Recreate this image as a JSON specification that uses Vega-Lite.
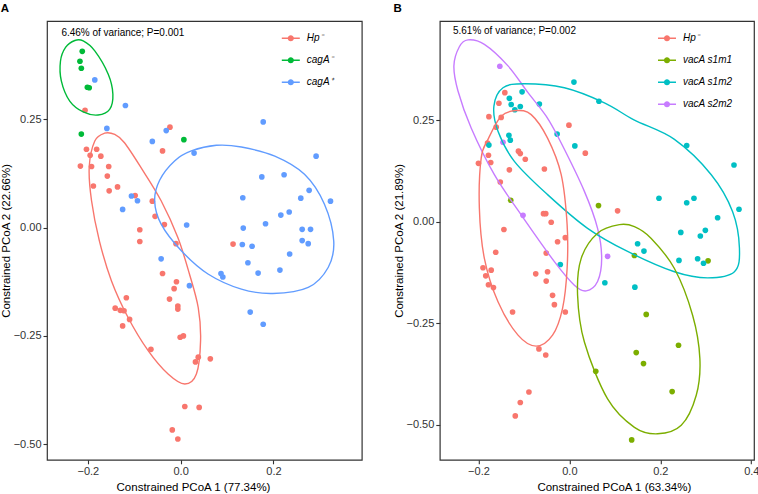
{
  "$schema": "https://vega.github.io/schema/vega-lite/v6.json",
  "padding": {"left": 0, "top": 2, "right": 1, "bottom": 0},
  "config": {
    "font": "Liberation Sans",
    "view": {"stroke": "#333333", "strokeWidth": 1.2},
    "axis": {"grid": false, "domain": false, "tickColor": "#333333", "tickSize": 4, "tickWidth": 1.1, "labelFontSize": 11, "labelColor": "#333333", "labelPadding": 2, "titleFontSize": 11.5, "titleFontWeight": "normal", "titleColor": "#000000", "labelFont": "Liberation Sans", "titleFont": "Liberation Sans"},
    "axisY": {"titlePadding": 1.5},
    "axisX": {"titlePadding": 5},
    "title": {"font": "Liberation Sans", "fontSize": 11.5, "fontWeight": "bold", "anchor": "start", "frame": "bounds", "offset": 6, "color": "#000000"}
  },
  "datasets": {
    "ptsA": [
      {"g": "Hp\u207b", "x": -0.206, "y": 0.271}, {"g": "Hp\u207b", "x": -0.023, "y": 0.232}, {"g": "Hp\u207b", "x": -0.203, "y": 0.181}, {"g": "Hp\u207b", "x": -0.181, "y": 0.181},
      {"g": "Hp\u207b", "x": -0.195, "y": 0.167}, {"g": "Hp\u207b", "x": -0.172, "y": 0.165}, {"g": "Hp\u207b", "x": -0.216, "y": 0.142}, {"g": "Hp\u207b", "x": -0.192, "y": 0.141},
      {"g": "Hp\u207b", "x": -0.155, "y": 0.141}, {"g": "Hp\u207b", "x": -0.158, "y": 0.119}, {"g": "Hp\u207b", "x": -0.188, "y": 0.096}, {"g": "Hp\u207b", "x": -0.136, "y": 0.094},
      {"g": "Hp\u207b", "x": -0.154, "y": 0.085}, {"g": "Hp\u207b", "x": -0.098, "y": 0.074}, {"g": "Hp\u207b", "x": -0.061, "y": 0.061}, {"g": "Hp\u207b", "x": -0.039, "y": 0.177},
      {"g": "Hp\u207b", "x": -0.055, "y": 0.026}, {"g": "Hp\u207b", "x": -0.035, "y": 0.007}, {"g": "Hp\u207b", "x": -0.088, "y": -0.005}, {"g": "Hp\u207b", "x": -0.088, "y": -0.032},
      {"g": "Hp\u207b", "x": -0.010, "y": -0.037}, {"g": "Hp\u207b", "x": 0.113, "y": -0.038}, {"g": "Hp\u207b", "x": -0.039, "y": -0.106}, {"g": "Hp\u207b", "x": -0.009, "y": -0.125},
      {"g": "Hp\u207b", "x": -0.014, "y": -0.141}, {"g": "Hp\u207b", "x": -0.024, "y": -0.165}, {"g": "Hp\u207b", "x": -0.006, "y": -0.181}, {"g": "Hp\u207b", "x": -0.006, "y": -0.188},
      {"g": "Hp\u207b", "x": -0.117, "y": -0.162}, {"g": "Hp\u207b", "x": -0.141, "y": -0.186}, {"g": "Hp\u207b", "x": -0.130, "y": -0.191}, {"g": "Hp\u207b", "x": -0.122, "y": -0.192},
      {"g": "Hp\u207b", "x": -0.110, "y": -0.212}, {"g": "Hp\u207b", "x": -0.125, "y": -0.227}, {"g": "Hp\u207b", "x": -0.001, "y": -0.253}, {"g": "Hp\u207b", "x": 0.006, "y": -0.250},
      {"g": "Hp\u207b", "x": -0.064, "y": -0.281}, {"g": "Hp\u207b", "x": 0.038, "y": -0.299}, {"g": "Hp\u207b", "x": 0.064, "y": -0.303}, {"g": "Hp\u207b", "x": 0.032, "y": -0.310},
      {"g": "Hp\u207b", "x": 0.009, "y": -0.413}, {"g": "Hp\u207b", "x": 0.040, "y": -0.415}, {"g": "Hp\u207b", "x": -0.018, "y": -0.467}, {"g": "Hp\u207b", "x": -0.006, "y": -0.488},
      {"g": "cagA\u207b", "x": -0.212, "y": 0.407}, {"g": "cagA\u207b", "x": -0.217, "y": 0.384}, {"g": "cagA\u207b", "x": -0.214, "y": 0.368}, {"g": "cagA\u207b", "x": -0.201, "y": 0.324},
      {"g": "cagA\u207b", "x": -0.197, "y": 0.323}, {"g": "cagA\u207b", "x": -0.214, "y": 0.216}, {"g": "cagA\u207b", "x": 0.007, "y": 0.203},
      {"g": "cagA\u207a", "x": -0.119, "y": 0.282}, {"g": "cagA\u207a", "x": -0.185, "y": 0.341}, {"g": "cagA\u207a", "x": -0.159, "y": 0.229}, {"g": "cagA\u207a", "x": -0.031, "y": 0.224},
      {"g": "cagA\u207a", "x": -0.061, "y": 0.199}, {"g": "cagA\u207a", "x": 0.178, "y": 0.244}, {"g": "cagA\u207a", "x": 0.029, "y": 0.172}, {"g": "cagA\u207a", "x": 0.292, "y": 0.165},
      {"g": "cagA\u207a", "x": 0.175, "y": 0.117}, {"g": "cagA\u207a", "x": 0.223, "y": 0.122}, {"g": "cagA\u207a", "x": 0.277, "y": 0.086}, {"g": "cagA\u207a", "x": 0.259, "y": 0.068},
      {"g": "cagA\u207a", "x": 0.134, "y": 0.069}, {"g": "cagA\u207a", "x": 0.323, "y": 0.061}, {"g": "cagA\u207a", "x": -0.106, "y": 0.073}, {"g": "cagA\u207a", "x": -0.093, "y": 0.062},
      {"g": "cagA\u207a", "x": -0.125, "y": 0.042}, {"g": "cagA\u207a", "x": 0.234, "y": 0.036}, {"g": "cagA\u207a", "x": 0.216, "y": 0.029}, {"g": "cagA\u207a", "x": 0.013, "y": 0.006},
      {"g": "cagA\u207a", "x": 0.135, "y": -0.001}, {"g": "cagA\u207a", "x": 0.183, "y": 0.009}, {"g": "cagA\u207a", "x": 0.262, "y": -0.004}, {"g": "cagA\u207a", "x": 0.280, "y": -0.004},
      {"g": "cagA\u207a", "x": 0.262, "y": -0.030}, {"g": "cagA\u207a", "x": 0.275, "y": -0.037}, {"g": "cagA\u207a", "x": 0.133, "y": -0.039}, {"g": "cagA\u207a", "x": 0.154, "y": -0.043},
      {"g": "cagA\u207a", "x": 0.235, "y": -0.061}, {"g": "cagA\u207a", "x": -0.042, "y": -0.072}, {"g": "cagA\u207a", "x": 0.145, "y": -0.081}, {"g": "cagA\u207a", "x": 0.167, "y": -0.105},
      {"g": "cagA\u207a", "x": 0.214, "y": -0.098}, {"g": "cagA\u207a", "x": 0.087, "y": -0.106}, {"g": "cagA\u207a", "x": 0.091, "y": -0.114}, {"g": "cagA\u207a", "x": 0.019, "y": -0.134},
      {"g": "cagA\u207a", "x": 0.150, "y": -0.195}, {"g": "cagA\u207a", "x": 0.178, "y": -0.223}
    ],
    "ellA": [
      {"g": "cagA\u207b", "i": 0, "x": -0.228, "y": 0.432}, {"g": "cagA\u207b", "i": 1, "x": -0.210, "y": 0.431}, {"g": "cagA\u207b", "i": 2, "x": -0.185, "y": 0.408},
      {"g": "cagA\u207b", "i": 3, "x": -0.156, "y": 0.354}, {"g": "cagA\u207b", "i": 4, "x": -0.146, "y": 0.308}, {"g": "cagA\u207b", "i": 5, "x": -0.153, "y": 0.273},
      {"g": "cagA\u207b", "i": 6, "x": -0.178, "y": 0.260}, {"g": "cagA\u207b", "i": 7, "x": -0.210, "y": 0.267}, {"g": "cagA\u207b", "i": 8, "x": -0.239, "y": 0.292},
      {"g": "cagA\u207b", "i": 9, "x": -0.257, "y": 0.338}, {"g": "cagA\u207b", "i": 10, "x": -0.259, "y": 0.384}, {"g": "cagA\u207b", "i": 11, "x": -0.248, "y": 0.416},
      {"g": "Hp\u207b", "i": 0, "x": -0.164, "y": 0.218}, {"g": "Hp\u207b", "i": 1, "x": -0.142, "y": 0.215}, {"g": "Hp\u207b", "i": 2, "x": -0.121, "y": 0.196},
      {"g": "Hp\u207b", "i": 3, "x": -0.085, "y": 0.138}, {"g": "Hp\u207b", "i": 4, "x": -0.042, "y": 0.062}, {"g": "Hp\u207b", "i": 5, "x": -0.006, "y": -0.023},
      {"g": "Hp\u207b", "i": 6, "x": 0.019, "y": -0.107}, {"g": "Hp\u207b", "i": 7, "x": 0.038, "y": -0.185}, {"g": "Hp\u207b", "i": 8, "x": 0.043, "y": -0.261},
      {"g": "Hp\u207b", "i": 9, "x": 0.034, "y": -0.338}, {"g": "Hp\u207b", "i": 10, "x": 0.009, "y": -0.361}, {"g": "Hp\u207b", "i": 11, "x": -0.027, "y": -0.338},
      {"g": "Hp\u207b", "i": 12, "x": -0.070, "y": -0.284}, {"g": "Hp\u207b", "i": 13, "x": -0.113, "y": -0.208}, {"g": "Hp\u207b", "i": 14, "x": -0.149, "y": -0.123},
      {"g": "Hp\u207b", "i": 15, "x": -0.175, "y": -0.031}, {"g": "Hp\u207b", "i": 16, "x": -0.192, "y": 0.062}, {"g": "Hp\u207b", "i": 17, "x": -0.197, "y": 0.140},
      {"g": "Hp\u207b", "i": 18, "x": -0.185, "y": 0.200},
      {"g": "cagA\u207a", "i": 0, "x": -0.056, "y": 0.062}, {"g": "cagA\u207a", "i": 1, "x": -0.045, "y": 0.110}, {"g": "cagA\u207a", "i": 2, "x": -0.013, "y": 0.154},
      {"g": "cagA\u207a", "i": 3, "x": 0.023, "y": 0.177}, {"g": "cagA\u207a", "i": 4, "x": 0.077, "y": 0.190}, {"g": "cagA\u207a", "i": 5, "x": 0.131, "y": 0.186},
      {"g": "cagA\u207a", "i": 6, "x": 0.203, "y": 0.165}, {"g": "cagA\u207a", "i": 7, "x": 0.267, "y": 0.123}, {"g": "cagA\u207a", "i": 8, "x": 0.310, "y": 0.054},
      {"g": "cagA\u207a", "i": 9, "x": 0.330, "y": -0.031}, {"g": "cagA\u207a", "i": 10, "x": 0.318, "y": -0.092}, {"g": "cagA\u207a", "i": 11, "x": 0.275, "y": -0.138},
      {"g": "cagA\u207a", "i": 12, "x": 0.199, "y": -0.152}, {"g": "cagA\u207a", "i": 13, "x": 0.131, "y": -0.142}, {"g": "cagA\u207a", "i": 14, "x": 0.059, "y": -0.107},
      {"g": "cagA\u207a", "i": 15, "x": 0.002, "y": -0.054}, {"g": "cagA\u207a", "i": 16, "x": -0.042, "y": 0.008}
    ],
    "annA": [{"x": -0.257, "y": 0.449, "label": "6.46% of variance; P=0.001"}],
    "ptsB": [
      {"g": "Hp\u207b", "x": -0.142, "y": 0.318}, {"g": "Hp\u207b", "x": -0.155, "y": 0.292}, {"g": "Hp\u207b", "x": -0.177, "y": 0.259}, {"g": "Hp\u207b", "x": -0.150, "y": 0.257},
      {"g": "Hp\u207b", "x": -0.001, "y": 0.238}, {"g": "Hp\u207b", "x": -0.161, "y": 0.233}, {"g": "Hp\u207b", "x": 0.035, "y": 0.169}, {"g": "Hp\u207b", "x": -0.180, "y": 0.194},
      {"g": "Hp\u207b", "x": -0.178, "y": 0.164}, {"g": "Hp\u207b", "x": -0.200, "y": 0.144}, {"g": "Hp\u207b", "x": -0.173, "y": 0.146}, {"g": "Hp\u207b", "x": -0.112, "y": 0.174},
      {"g": "Hp\u207b", "x": -0.108, "y": 0.168}, {"g": "Hp\u207b", "x": -0.097, "y": 0.154}, {"g": "Hp\u207b", "x": -0.055, "y": 0.130}, {"g": "Hp\u207b", "x": -0.132, "y": 0.128},
      {"g": "Hp\u207b", "x": -0.152, "y": 0.098}, {"g": "Hp\u207b", "x": 0.106, "y": 0.027}, {"g": "Hp\u207b", "x": -0.057, "y": 0.020}, {"g": "Hp\u207b", "x": -0.052, "y": 0.020},
      {"g": "Hp\u207b", "x": -0.040, "y": -0.001}, {"g": "Hp\u207b", "x": -0.144, "y": -0.019}, {"g": "Hp\u207b", "x": -0.026, "y": -0.049}, {"g": "Hp\u207b", "x": -0.009, "y": -0.039},
      {"g": "Hp\u207b", "x": -0.162, "y": -0.075}, {"g": "Hp\u207b", "x": -0.051, "y": -0.077}, {"g": "Hp\u207b", "x": -0.190, "y": -0.113}, {"g": "Hp\u207b", "x": -0.172, "y": -0.119},
      {"g": "Hp\u207b", "x": -0.184, "y": -0.133}, {"g": "Hp\u207b", "x": -0.048, "y": -0.123}, {"g": "Hp\u207b", "x": -0.074, "y": -0.128}, {"g": "Hp\u207b", "x": -0.178, "y": -0.155},
      {"g": "Hp\u207b", "x": -0.167, "y": -0.162}, {"g": "Hp\u207b", "x": -0.051, "y": -0.146}, {"g": "Hp\u207b", "x": -0.037, "y": -0.181}, {"g": "Hp\u207b", "x": -0.033, "y": -0.204},
      {"g": "Hp\u207b", "x": -0.125, "y": -0.222}, {"g": "Hp\u207b", "x": -0.009, "y": -0.222}, {"g": "Hp\u207b", "x": -0.067, "y": -0.313}, {"g": "Hp\u207b", "x": -0.052, "y": -0.328},
      {"g": "Hp\u207b", "x": -0.089, "y": -0.419}, {"g": "Hp\u207b", "x": -0.108, "y": -0.445}, {"g": "Hp\u207b", "x": -0.119, "y": -0.478},
      {"g": "vacA s1m1", "x": -0.129, "y": 0.053}, {"g": "vacA s1m1", "x": 0.064, "y": 0.040}, {"g": "vacA s1m1", "x": 0.143, "y": -0.083}, {"g": "vacA s1m1", "x": 0.305, "y": -0.096},
      {"g": "vacA s1m1", "x": 0.169, "y": -0.228}, {"g": "vacA s1m1", "x": 0.240, "y": -0.304}, {"g": "vacA s1m1", "x": 0.147, "y": -0.322}, {"g": "vacA s1m1", "x": 0.163, "y": -0.349},
      {"g": "vacA s1m1", "x": 0.058, "y": -0.368}, {"g": "vacA s1m1", "x": 0.226, "y": -0.418}, {"g": "vacA s1m1", "x": 0.137, "y": -0.537},
      {"g": "vacA s1m2", "x": 0.010, "y": 0.344}, {"g": "vacA s1m2", "x": 0.065, "y": 0.297}, {"g": "vacA s1m2", "x": -0.132, "y": 0.304}, {"g": "vacA s1m2", "x": -0.104, "y": 0.320},
      {"g": "vacA s1m2", "x": -0.128, "y": 0.289}, {"g": "vacA s1m2", "x": -0.108, "y": 0.284}, {"g": "vacA s1m2", "x": -0.120, "y": 0.276}, {"g": "vacA s1m2", "x": -0.066, "y": 0.290},
      {"g": "vacA s1m2", "x": -0.027, "y": 0.216}, {"g": "vacA s1m2", "x": -0.133, "y": 0.213}, {"g": "vacA s1m2", "x": -0.130, "y": 0.201}, {"g": "vacA s1m2", "x": -0.177, "y": 0.189},
      {"g": "vacA s1m2", "x": 0.012, "y": 0.187}, {"g": "vacA s1m2", "x": 0.258, "y": 0.188}, {"g": "vacA s1m2", "x": 0.362, "y": 0.140}, {"g": "vacA s1m2", "x": 0.197, "y": 0.058},
      {"g": "vacA s1m2", "x": 0.258, "y": 0.047}, {"g": "vacA s1m2", "x": 0.274, "y": 0.058}, {"g": "vacA s1m2", "x": 0.373, "y": 0.031}, {"g": "vacA s1m2", "x": 0.326, "y": 0.010},
      {"g": "vacA s1m2", "x": 0.245, "y": -0.026}, {"g": "vacA s1m2", "x": 0.288, "y": -0.035}, {"g": "vacA s1m2", "x": 0.299, "y": -0.021}, {"g": "vacA s1m2", "x": 0.150, "y": -0.054},
      {"g": "vacA s1m2", "x": 0.164, "y": -0.072}, {"g": "vacA s1m2", "x": 0.241, "y": -0.095}, {"g": "vacA s1m2", "x": 0.282, "y": -0.091}, {"g": "vacA s1m2", "x": 0.295, "y": -0.102},
      {"g": "vacA s1m2", "x": -0.020, "y": -0.105}, {"g": "vacA s1m2", "x": 0.078, "y": -0.150}, {"g": "vacA s1m2", "x": 0.144, "y": -0.161},
      {"g": "vacA s2m2", "x": -0.153, "y": 0.383}, {"g": "vacA s2m2", "x": -0.146, "y": 0.196}, {"g": "vacA s2m2", "x": -0.102, "y": 0.016}, {"g": "vacA s2m2", "x": 0.084, "y": -0.085}
    ],
    "ellB": [
      {"g": "vacA s2m2", "i": 0, "x": -0.223, "y": 0.448}, {"g": "vacA s2m2", "i": 1, "x": -0.187, "y": 0.437}, {"g": "vacA s2m2", "i": 2, "x": -0.135, "y": 0.384},
      {"g": "vacA s2m2", "i": 3, "x": -0.091, "y": 0.318}, {"g": "vacA s2m2", "i": 4, "x": -0.051, "y": 0.260}, {"g": "vacA s2m2", "i": 5, "x": -0.018, "y": 0.194},
      {"g": "vacA s2m2", "i": 6, "x": 0.033, "y": 0.075}, {"g": "vacA s2m2", "i": 7, "x": 0.062, "y": -0.016}, {"g": "vacA s2m2", "i": 8, "x": 0.071, "y": -0.090},
      {"g": "vacA s2m2", "i": 9, "x": 0.062, "y": -0.147}, {"g": "vacA s2m2", "i": 10, "x": 0.037, "y": -0.170}, {"g": "vacA s2m2", "i": 11, "x": 0.011, "y": -0.156},
      {"g": "vacA s2m2", "i": 12, "x": -0.033, "y": -0.098}, {"g": "vacA s2m2", "i": 13, "x": -0.106, "y": 0.017}, {"g": "vacA s2m2", "i": 14, "x": -0.165, "y": 0.116},
      {"g": "vacA s2m2", "i": 15, "x": -0.216, "y": 0.231}, {"g": "vacA s2m2", "i": 16, "x": -0.245, "y": 0.322}, {"g": "vacA s2m2", "i": 17, "x": -0.254, "y": 0.384},
      {"g": "vacA s2m2", "i": 18, "x": -0.242, "y": 0.431},
      {"g": "vacA s1m2", "i": 0, "x": -0.166, "y": 0.285}, {"g": "vacA s1m2", "i": 1, "x": -0.146, "y": 0.330}, {"g": "vacA s1m2", "i": 2, "x": -0.099, "y": 0.340},
      {"g": "vacA s1m2", "i": 3, "x": -0.011, "y": 0.330}, {"g": "vacA s1m2", "i": 4, "x": 0.077, "y": 0.293}, {"g": "vacA s1m2", "i": 5, "x": 0.142, "y": 0.251},
      {"g": "vacA s1m2", "i": 6, "x": 0.231, "y": 0.203}, {"g": "vacA s1m2", "i": 7, "x": 0.312, "y": 0.116}, {"g": "vacA s1m2", "i": 8, "x": 0.359, "y": 0.025},
      {"g": "vacA s1m2", "i": 9, "x": 0.374, "y": -0.065}, {"g": "vacA s1m2", "i": 10, "x": 0.363, "y": -0.123}, {"g": "vacA s1m2", "i": 11, "x": 0.304, "y": -0.138},
      {"g": "vacA s1m2", "i": 12, "x": 0.231, "y": -0.123}, {"g": "vacA s1m2", "i": 13, "x": 0.128, "y": -0.073}, {"g": "vacA s1m2", "i": 14, "x": 0.040, "y": -0.016},
      {"g": "vacA s1m2", "i": 15, "x": -0.048, "y": 0.067}, {"g": "vacA s1m2", "i": 16, "x": -0.121, "y": 0.149}, {"g": "vacA s1m2", "i": 17, "x": -0.157, "y": 0.223},
      {"g": "Hp\u207b", "i": 0, "x": -0.117, "y": 0.274}, {"g": "Hp\u207b", "i": 1, "x": -0.084, "y": 0.264}, {"g": "Hp\u207b", "i": 2, "x": -0.048, "y": 0.206},
      {"g": "Hp\u207b", "i": 3, "x": -0.018, "y": 0.116}, {"g": "Hp\u207b", "i": 4, "x": -0.005, "y": -0.007}, {"g": "Hp\u207b", "i": 5, "x": -0.005, "y": -0.115},
      {"g": "Hp\u207b", "i": 6, "x": -0.015, "y": -0.213}, {"g": "Hp\u207b", "i": 7, "x": -0.037, "y": -0.279}, {"g": "Hp\u207b", "i": 8, "x": -0.073, "y": -0.306},
      {"g": "Hp\u207b", "i": 9, "x": -0.113, "y": -0.279}, {"g": "Hp\u207b", "i": 10, "x": -0.157, "y": -0.197}, {"g": "Hp\u207b", "i": 11, "x": -0.187, "y": -0.090},
      {"g": "Hp\u207b", "i": 12, "x": -0.198, "y": 0.034}, {"g": "Hp\u207b", "i": 13, "x": -0.194, "y": 0.157}, {"g": "Hp\u207b", "i": 14, "x": -0.179, "y": 0.203},
      {"g": "Hp\u207b", "i": 15, "x": -0.150, "y": 0.260},
      {"g": "vacA s1m1", "i": 0, "x": 0.110, "y": -0.007}, {"g": "vacA s1m1", "i": 1, "x": 0.143, "y": -0.012}, {"g": "vacA s1m1", "i": 2, "x": 0.180, "y": -0.041},
      {"g": "vacA s1m1", "i": 3, "x": 0.231, "y": -0.115}, {"g": "vacA s1m1", "i": 4, "x": 0.271, "y": -0.230}, {"g": "vacA s1m1", "i": 5, "x": 0.287, "y": -0.337},
      {"g": "vacA s1m1", "i": 6, "x": 0.279, "y": -0.427}, {"g": "vacA s1m1", "i": 7, "x": 0.246, "y": -0.501}, {"g": "vacA s1m1", "i": 8, "x": 0.194, "y": -0.522},
      {"g": "vacA s1m1", "i": 9, "x": 0.143, "y": -0.506}, {"g": "vacA s1m1", "i": 10, "x": 0.084, "y": -0.436}, {"g": "vacA s1m1", "i": 11, "x": 0.033, "y": -0.296},
      {"g": "vacA s1m1", "i": 12, "x": 0.018, "y": -0.180}, {"g": "vacA s1m1", "i": 13, "x": 0.026, "y": -0.090}, {"g": "vacA s1m1", "i": 14, "x": 0.062, "y": -0.028}
    ],
    "annB": [{"x": -0.256, "y": 0.470, "label": "5.61% of variance; P=0.002"}]
  },
  "bounds": "flush",
  "spacing": 77.8,
  "resolve": {"scale": {"color": "independent", "x": "independent", "y": "independent"}, "legend": {"color": "independent"}},
  "hconcat": [
    {
      "width": 314.8,
      "height": 438.8,
      "title": {"text": "A"},
      "layer": [
        {
          "data": {"name": "ptsA"},
          "mark": {"type": "circle", "size": 32, "opacity": 1},
          "encoding": {
            "x": {"field": "x", "type": "quantitative", "scale": {"domain": [-0.288, 0.3905], "nice": false, "zero": false}, "axis": {"values": [-0.2, 0, 0.2], "format": ".1f", "title": "Constrained PCoA 1 (77.34%)", "titleX": 146}},
            "y": {"field": "y", "type": "quantitative", "scale": {"domain": [-0.536, 0.477], "nice": false, "zero": false}, "axis": {"values": [-0.5, -0.25, 0, 0.25], "format": ".2f", "title": "Constrained PCoA 2 (22.66%)"}},
            "color": {"field": "g", "type": "nominal", "scale": {"domain": ["Hp\u207b", "cagA\u207b", "cagA\u207a"], "range": ["#F8766D", "#00BA38", "#619CFF"]},
              "legend": {"title": null, "orient": "none", "legendX": 234.8, "legendY": 8.3, "symbolType": "M-1,-0.08L1,-0.08L1,0.08L-1,0.08Z M0.34,0A0.34,0.34,0,1,1,-0.34,0A0.34,0.34,0,1,1,0.34,0Z", "symbolSize": 324, "symbolStrokeWidth": 0, "symbolOpacity": 1, "labelFontSize": 10, "labelFontStyle": "italic", "labelOffset": 7, "rowPadding": 8, "padding": 0, "labelColor": "#000000", "labelFont": "Liberation Sans"}}
          }
        },
        {
          "data": {"name": "ellA"},
          "mark": {"type": "line", "interpolate": "cardinal-closed", "strokeWidth": 1.4},
          "encoding": {
            "x": {"field": "x", "type": "quantitative"},
            "y": {"field": "y", "type": "quantitative"},
            "color": {"field": "g", "type": "nominal", "legend": null},
            "detail": {"field": "g"},
            "order": {"field": "i", "type": "quantitative"}
          }
        },
        {
          "data": {"name": "annA"},
          "mark": {"type": "text", "align": "left", "baseline": "middle", "fontSize": 10, "color": "#000000", "font": "Liberation Sans"},
          "encoding": {
            "x": {"field": "x", "type": "quantitative"},
            "y": {"field": "y", "type": "quantitative"},
            "text": {"field": "label"}
          }
        }
      ]
    },
    {
      "width": 314.2,
      "height": 438.8,
      "title": {"text": "B"},
      "layer": [
        {
          "data": {"name": "ptsB"},
          "mark": {"type": "circle", "size": 32, "opacity": 1},
          "encoding": {
            "x": {"field": "x", "type": "quantitative", "scale": {"domain": [-0.285, 0.406], "nice": false, "zero": false}, "axis": {"values": [-0.2, 0, 0.2, 0.4], "format": ".1f", "title": "Constrained PCoA 1 (63.34%)", "titleX": 174}},
            "y": {"field": "y", "type": "quantitative", "scale": {"domain": [-0.586, 0.4945], "nice": false, "zero": false}, "axis": {"values": [-0.5, -0.25, 0, 0.25], "format": ".2f", "title": "Constrained PCoA 2 (21.89%)"}},
            "color": {"field": "g", "type": "nominal", "scale": {"domain": ["Hp\u207b", "vacA s1m1", "vacA s1m2", "vacA s2m2"], "range": ["#F8766D", "#7CAE00", "#00BFC4", "#C77CFF"]},
              "legend": {"title": null, "orient": "none", "legendX": 218.2, "legendY": 8.3, "symbolType": "M-1,-0.08L1,-0.08L1,0.08L-1,0.08Z M0.34,0A0.34,0.34,0,1,1,-0.34,0A0.34,0.34,0,1,1,0.34,0Z", "symbolSize": 324, "symbolStrokeWidth": 0, "symbolOpacity": 1, "labelFontSize": 10, "labelFontStyle": "italic", "labelOffset": 7, "rowPadding": 8, "padding": 0, "labelColor": "#000000", "labelFont": "Liberation Sans"}}
          }
        },
        {
          "data": {"name": "ellB"},
          "mark": {"type": "line", "interpolate": "cardinal-closed", "strokeWidth": 1.4},
          "encoding": {
            "x": {"field": "x", "type": "quantitative"},
            "y": {"field": "y", "type": "quantitative"},
            "color": {"field": "g", "type": "nominal", "legend": null},
            "detail": {"field": "g"},
            "order": {"field": "i", "type": "quantitative"}
          }
        },
        {
          "data": {"name": "annB"},
          "mark": {"type": "text", "align": "left", "baseline": "middle", "fontSize": 10, "color": "#000000", "font": "Liberation Sans"},
          "encoding": {
            "x": {"field": "x", "type": "quantitative"},
            "y": {"field": "y", "type": "quantitative"},
            "text": {"field": "label"}
          }
        }
      ]
    }
  ]
}
